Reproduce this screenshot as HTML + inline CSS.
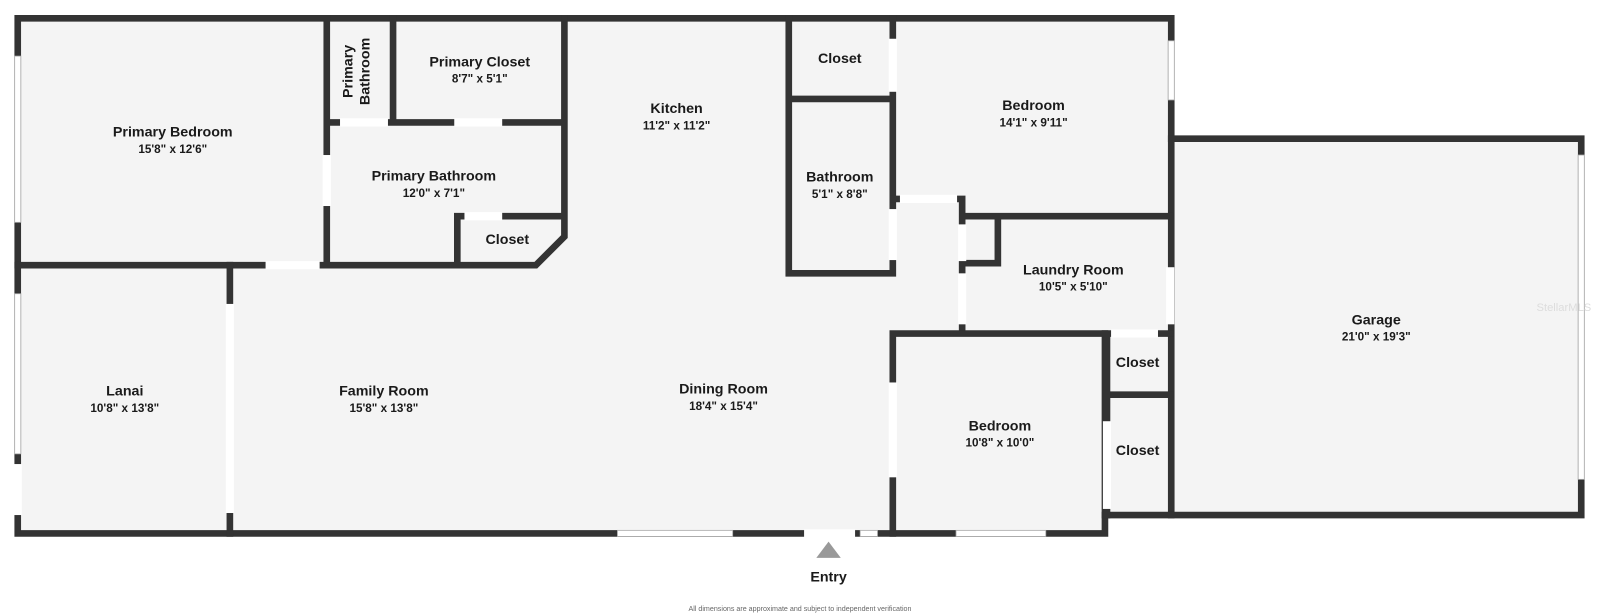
<!DOCTYPE html>
<html><head><meta charset="utf-8"><style>
html,body{margin:0;padding:0;background:#fff;}
svg{display:block;}
text{font-family:"Liberation Sans","DejaVu Sans",sans-serif;fill:#1a1a1a;text-anchor:middle;}
.n{font-size:14px;font-weight:bold;}
.d{font-size:11.5px;font-weight:bold;}
</style></head><body>
<svg width="1600" height="615" viewBox="0 0 1568 603" xmlns="http://www.w3.org/2000/svg">
<rect width="1568" height="603" fill="#fff"/>
<!-- floors -->
<polygon points="17,18 1148,18 1148,505 1083,505 1083,523 17,523" fill="#f4f4f4"/>
<rect x="1148" y="136" width="402" height="369" fill="#f4f4f4"/>
<g stroke="#333" stroke-width="6.5" stroke-linecap="square" fill="none">
<!-- outer -->
<path d="M17,18 H1148 V505 M17,18 V523 H1083 V327"/>
<path d="M1083,505 H1550 V136 H1148"/>
<!-- primary suite -->
<path d="M320,18 V260 M17,260 H525 L553,232 V18 M385,18 V120 M320,120 H553 M448,260 V212 H553"/>
<path d="M225,260 V523"/>
<!-- kitchen closet / bath -->
<path d="M773,18 V268 H875 V18 M773,97 H875"/>
<path d="M875,195 H943 V325 M943,212 H1147 M978,212 V258 H943"/>
<!-- bedroom 2 & closets -->
<path d="M875,327 H1147 M875,327 V523 M1085,327 V505 M1085,387 H1147"/>
</g>
<!-- door / opening gaps -->
<g fill="#fff">
<rect x="260" y="256" width="53" height="8"/>
<rect x="316" y="152" width="8" height="50"/>
<rect x="333" y="116" width="47" height="8"/>
<rect x="445" y="116" width="47" height="8"/>
<rect x="455" y="208" width="37" height="8"/>
<rect x="871" y="38" width="8" height="52"/>
<rect x="871" y="205" width="8" height="50"/>
<rect x="882" y="191" width="56" height="8"/>
<rect x="939" y="220" width="8" height="36"/>
<rect x="939" y="268" width="8" height="50"/>
<rect x="1143" y="262" width="8" height="56"/>
<rect x="1089" y="323" width="46" height="8"/>
<rect x="871" y="375" width="8" height="93"/>
<rect x="1081" y="413" width="8" height="86"/>
<rect x="221" y="298" width="8" height="205"/>
<rect x="13" y="455" width="8" height="50"/>
<rect x="788" y="519" width="50" height="8"/>
</g>
<!-- windows -->
<g fill="#fff" stroke="#aaa" stroke-width="0.8">
<rect x="14" y="55" width="6" height="163"/>
<rect x="14" y="288" width="6" height="157"/>
<rect x="1145" y="40" width="6" height="58"/>
<rect x="1547" y="152" width="6" height="318"/>
<rect x="605" y="520" width="113" height="6"/>
<rect x="937" y="520" width="88" height="6"/>
<rect x="843" y="520" width="17" height="6"/>
</g>
<!-- entry arrow -->
<polygon points="812,531 800,547 824,547" fill="#999"/>
<!-- labels -->
<text class="n" x="169" y="134">Primary Bedroom</text><text class="d" x="169" y="150">15'8" x 12'6"</text>
<text class="n" transform="translate(345,70) rotate(-90)">Primary</text>
<text class="n" transform="translate(362,70) rotate(-90)">Bathroom</text>
<text class="n" x="470" y="65">Primary Closet</text><text class="d" x="470" y="81">8'7" x 5'1"</text>
<text class="n" x="425" y="177">Primary Bathroom</text><text class="d" x="425" y="193">12'0" x 7'1"</text>
<text class="n" x="497" y="239">Closet</text>
<text class="n" x="663" y="111">Kitchen</text><text class="d" x="663" y="127">11'2" x 11'2"</text>
<text class="n" x="823" y="62">Closet</text>
<text class="n" x="823" y="178">Bathroom</text><text class="d" x="823" y="194">5'1" x 8'8"</text>
<text class="n" x="1013" y="108">Bedroom</text><text class="d" x="1013" y="124">14'1" x 9'11"</text>
<text class="n" x="1052" y="269">Laundry Room</text><text class="d" x="1052" y="285">10'5" x 5'10"</text>
<text class="n" x="1349" y="318">Garage</text><text class="d" x="1349" y="334">21'0" x 19'3"</text>
<text class="n" x="122" y="388">Lanai</text><text class="d" x="122" y="404">10'8" x 13'8"</text>
<text class="n" x="376" y="388">Family Room</text><text class="d" x="376" y="404">15'8" x 13'8"</text>
<text class="n" x="709" y="386">Dining Room</text><text class="d" x="709" y="402">18'4" x 15'4"</text>
<text class="n" x="980" y="422">Bedroom</text><text class="d" x="980" y="438">10'8" x 10'0"</text>
<text class="n" x="1115" y="360">Closet</text>
<text class="n" x="1115" y="446">Closet</text>
<text class="n" x="812" y="570">Entry</text>
<text x="784" y="599" style="font-size:7px;fill:#666">All dimensions are approximate and subject to independent verification</text>
<text x="1533" y="305" style="font-size:11px;fill:#ddd">StellarMLS</text>
</svg>
</body></html>
